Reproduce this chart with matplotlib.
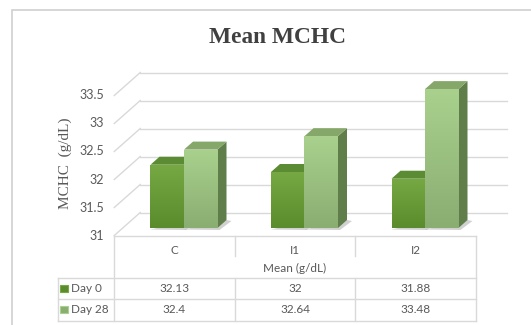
import numpy as np
import matplotlib.pyplot as plt
from matplotlib.patches import Polygon, Rectangle
from matplotlib.colors import LinearSegmentedColormap

categories = ["C", "I1", "I2"]
series = ["Day 0", "Day 28"]
day0 = [32.13, 32, 31.88]
day28 = [32.4, 32.64, 33.48]
yticks = [31, 31.5, 32, 32.5, 33, 33.5]

W, H = 531, 325
XPX, YPX = 120.5, 56.0          # pixels per category / per g/dL
X0PX, Y0PX = 184.0, 228.0       # where category 0 / value 31 sit
BASE = 31

# oblique offsets (data units) for front edge, back wall and bar depth
FX, FY = -9.5 / XPX, -7.5 / YPX
BX, BY = 16.5 / XPX, 15.5 / YPX
DX, DY = 9.0 / XPX, 8.0 / YPX
BW = 33.5 / XPX

GRID = "#d9d9d9"
TXT = "#595959"
SANS = "Lato"


def px(x, y):
    """pixel position (from top-left) -> data coords"""
    return (x - X0PX) / XPX, BASE + (Y0PX - y) / YPX


fig = plt.figure(figsize=(W / 100, H / 100), dpi=100)
ax = fig.add_axes([0, 0, 1, 1])
ax.axis("off")

# chart frame
fx0, fy0 = px(12, 10)
fx1, fy1 = px(560, 340)
ax.add_patch(Rectangle((fx0, fy1), fx1 - fx0, fy0 - fy1, fill=False,
                       ec="#d0d0d0", lw=1.2, clip_on=False))

# back wall gridlines + the slanted side lines and value labels
left, right = -0.5, len(categories) - 0.5
gx_end = px(507, 0)[0]
lx = px(104, 0)[0]
for v in yticks:
    ax.plot([left + BX, gx_end], [v + BY, v + BY], color=GRID, lw=1, zorder=1)
    ax.plot([left + FX, left + BX], [v + FY, v + BY], color=GRID, lw=1, zorder=1)
    ax.text(lx, v + FY, f"{v:g}", ha="right", va="center", fontsize=9,
            color=TXT, family=SANS)

tx, ty = px(65, 163)
ax.text(tx, ty, "MCHC  (g/dL)", rotation=90, ha="center", va="center",
        fontsize=11, color=TXT, family="Liberation Serif")

tx, ty = px(278, 38)
ax.text(tx, ty, "Mean MCHC", ha="center", va="center", fontsize=16.8,
        fontweight="bold", color="#404040", family="Liberation Serif")

styles = [
    # front top, front bottom, side, cap
    ("#76a843", "#5a8c2d", "#4d7a27", "#5b8b33"),
    ("#a9d18d", "#8aad72", "#5f7e4a", "#85a769"),
]

x = np.arange(len(categories))
for k, vals in enumerate([day0, day28]):
    c_top, c_bot, c_side, c_cap = styles[k]
    z = 3 + k
    bars = ax.bar(x - BW + k * BW, np.array(vals) - BASE, width=BW,
                  bottom=BASE, align="edge", color=c_bot, lw=0, zorder=z)
    cmap = LinearSegmentedColormap.from_list("g%d" % k, [c_bot, c_top])
    for b in bars:
        x0 = b.get_x()
        x1 = x0 + b.get_width()
        v = b.get_y() + b.get_height()
        # soft shadow on the floor
        ax.add_patch(Polygon([(x0, BASE - 1.5 / YPX), (x1 + 2 / XPX, BASE - 2 / YPX),
                              (x1 + DX + 5 / XPX, BASE + DY - 1 / YPX),
                              (x1 + DX, BASE + DY)],
                             fc="#9a9a9a", alpha=0.45, lw=0, zorder=2))
        ax.add_patch(Polygon([(x1, BASE), (x1, v), (x1 + DX, v + DY), (x1 + DX, BASE + DY)],
                             fc=c_side, lw=0, zorder=z))
        ax.add_patch(Polygon([(x0, v), (x1, v), (x1 + DX, v + DY), (x0 + DX, v + DY)],
                             fc=c_cap, lw=0, zorder=z))
        im = ax.imshow(np.linspace(0, 1, 64).reshape(-1, 1), extent=[x0, x1, BASE, v],
                       origin="lower", cmap=cmap, aspect="auto", zorder=z,
                       interpolation="bilinear")
        im.set_clip_path(b)

# data table under the chart
_, r0 = px(0, 236)
_, r_cat = px(0, 255.5)
_, r1 = px(0, 277.6)
_, r2 = px(0, 298.6)
_, r3 = px(0, 320.6)
lead = px(58, 0)[0]
edges = np.arange(len(categories) + 1) - 0.5 + FX
ax.plot([edges[0], edges[-1]], [r0, r0], color=GRID, lw=1, zorder=1)
for r in (r1, r2, r3):
    ax.plot([lead, edges[-1]], [r, r], color=GRID, lw=1, zorder=1)
ax.plot([lead, lead], [r1, r3], color=GRID, lw=1)
ax.plot([edges[0], edges[0]], [r0, r3], color=GRID, lw=1)
ax.plot([edges[-1], edges[-1]], [r0, r3], color=GRID, lw=1)
for e in edges[1:-1]:
    ax.plot([e, e], [r0, r_cat], color=GRID, lw=1)
    ax.plot([e, e], [r1, r3], color=GRID, lw=1)

centers = x + FX
for c, name in zip(centers, categories):
    ax.text(c, px(0, 250)[1], name, ha="center", va="center", fontsize=8.5,
            color=TXT, family=SANS)
ax.text(centers[1], px(0, 268.5)[1], "Mean (g/dL)", ha="center", va="center",
        fontsize=8.5, color=TXT, family=SANS)

row_y = [px(0, 288.5)[1], px(0, 309.5)[1]]
for k, (name, vals) in enumerate(zip(series, [day0, day28])):
    c_top, c_bot = styles[k][0], styles[k][1]
    ky = row_y[k]
    ax.add_patch(Rectangle((px(60, 0)[0], ky - 3.5 / YPX), 8 / XPX, 7 / YPX,
                           fc=c_bot, ec=c_top, lw=0.8))
    ax.text(px(71, 0)[0], ky, name, ha="left", va="center", fontsize=8.5,
            color=TXT, family=SANS)
    for c, v in zip(centers, vals):
        ax.text(c, ky, f"{v:g}", ha="center", va="center", fontsize=8.5,
                color=TXT, family=SANS)

ax.set_xlim(px(0, 0)[0], px(W, 0)[0])
ax.set_ylim(px(0, H)[1], px(0, 0)[1])

fig.savefig("out.png", dpi=100, facecolor="white")
